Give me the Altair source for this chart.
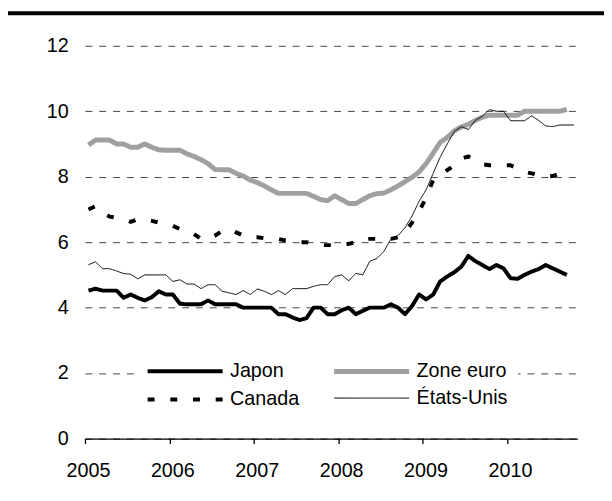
import altair as alt
import pandas as pd

# Monthly unemployment rates (%), Jan 2005 onwards
japon = [4.52, 4.58, 4.52, 4.52, 4.52, 4.30, 4.40, 4.30, 4.22, 4.32, 4.50, 4.40,
         4.40, 4.12, 4.10, 4.10, 4.10, 4.22, 4.10, 4.10, 4.10, 4.10, 4.00, 4.00,
         4.00, 4.00, 4.00, 3.80, 3.80, 3.70, 3.62, 3.68, 4.00, 4.00, 3.80, 3.80,
         3.92, 4.00, 3.80, 3.90, 4.00, 4.00, 4.00, 4.10, 4.00, 3.80, 4.05, 4.40,
         4.25, 4.40, 4.80, 4.95, 5.08, 5.25, 5.58, 5.42, 5.30, 5.18, 5.30, 5.20,
         4.90, 4.88, 5.00, 5.10, 5.18, 5.30, 5.20, 5.10, 5.00]
zone_euro = [8.97, 9.12, 9.12, 9.12, 9.00, 9.00, 8.90, 8.90, 9.00, 8.90, 8.82, 8.81,
             8.81, 8.81, 8.70, 8.62, 8.52, 8.40, 8.22, 8.21, 8.21, 8.10, 8.02, 7.90,
             7.82, 7.72, 7.60, 7.49, 7.49, 7.49, 7.49, 7.49, 7.40, 7.30, 7.27, 7.42,
             7.30, 7.18, 7.18, 7.30, 7.42, 7.48, 7.50, 7.60, 7.72, 7.85, 7.98, 8.15,
             8.40, 8.72, 9.05, 9.20, 9.40, 9.52, 9.60, 9.72, 9.82, 9.88, 9.88, 9.88,
             9.88, 9.88, 10.00, 10.00, 10.00, 10.00, 10.00, 10.00, 10.06]
canada = [7.00, 7.10, 6.90, 6.78, 6.75, 6.70, 6.62, 6.70, 6.70, 6.65, 6.60, 6.55,
          6.50, 6.40, 6.30, 6.25, 6.10, 6.10, 6.20, 6.35, 6.40, 6.30, 6.20, 6.15,
          6.15, 6.12, 6.10, 6.10, 6.05, 6.03, 6.00, 6.00, 5.95, 5.91, 5.91, 5.91,
          5.91, 5.95, 6.00, 6.10, 6.10, 6.10, 6.10, 6.10, 6.15, 6.30, 6.60, 6.95,
          7.35, 7.90, 8.05, 8.20, 8.35, 8.55, 8.62, 8.50, 8.38, 8.35, 8.35, 8.35,
          8.35, 8.25, 8.15, 8.10, 8.05, 8.00, 8.02, 8.10]
etats_unis = [5.31, 5.40, 5.19, 5.19, 5.12, 5.04, 5.02, 4.88, 5.00, 5.00, 5.00, 5.00,
              4.80, 4.85, 4.72, 4.72, 4.58, 4.70, 4.70, 4.50, 4.45, 4.40, 4.52, 4.40,
              4.57, 4.50, 4.40, 4.52, 4.40, 4.58, 4.58, 4.58, 4.65, 4.70, 4.70, 4.95,
              5.00, 4.82, 5.05, 5.00, 5.42, 5.50, 5.72, 6.10, 6.20, 6.44, 6.80, 7.25,
              7.60, 8.10, 8.60, 9.00, 9.38, 9.53, 9.44, 9.72, 9.85, 10.05, 10.00, 10.00,
              9.71, 9.71, 9.71, 9.86, 9.72, 9.55, 9.53, 9.58, 9.58, 9.58]

# draw order (États-Unis on top)
series_names = ["Japon", "Zone euro", "Canada", "États-Unis"]
series_values = [japon, zone_euro, canada, etats_unis]

# legend order (filled column by column: Japon / Canada, then Zone euro / États-Unis)
legend_order = ["Japon", "Canada", "Zone euro", "États-Unis"]
legend_colors = ["#000000", "#000000", "#a0a0a0", "#000000"]
legend_widths = [4, 4, 5, 1]
legend_dashes = [[1, 0], [7, 16], [1, 0], [1, 0]]

year_ticks = [2005, 2006, 2007, 2008, 2009, 2010]
y_ticks = [0, 2, 4, 6, 8, 10, 12]
n_months_axis = 70
start_year = 2005

rows = []
for name, vals in zip(series_names, series_values):
    for i, v in enumerate(vals):
        rows.append({"serie": name, "t": start_year + (i + 0.5) / 12, "v": v})
df = pd.DataFrame(rows)

FONT = "Liberation Sans"
W, H = 499, 398

lines = alt.Chart(df).mark_line(strokeJoin="round").encode(
    x=alt.X("t:Q",
            scale=alt.Scale(domain=[start_year, start_year + n_months_axis / 12], nice=False, zero=False),
            axis=alt.Axis(values=year_ticks, format="d", title=None, grid=False,
                          domainColor="black", domainWidth=1.3, tickColor="black",
                          tickSize=5, tickWidth=1.3, labelPadding=17, labelOffset=3,
                          labelFlush=False,
                          labelFontSize=20, labelFont=FONT, labelColor="black")),
    y=alt.Y("v:Q",
            scale=alt.Scale(domain=[0, 12], nice=False),
            axis=alt.Axis(values=y_ticks, title=None, domain=False, ticks=False, tickSize=0,
                          labelPadding=17, labelFontSize=20, labelFont=FONT, labelColor="black",
                          grid=True, gridColor="#444444", gridDash=[7, 7], gridWidth=1)),
    color=alt.Color("serie:N", scale=alt.Scale(type="ordinal", domain=legend_order, range=legend_colors),
                    legend=alt.Legend(title=None)),
    strokeWidth=alt.StrokeWidth("serie:N",
                                scale=alt.Scale(type="ordinal", domain=legend_order, range=legend_widths),
                                legend=alt.Legend(title=None)),
    strokeDash=alt.StrokeDash("serie:N",
                              scale=alt.Scale(type="ordinal", domain=legend_order, range=legend_dashes),
                              legend=alt.Legend(title=None)),
    detail="serie:N",
)

top_bar = alt.Chart(pd.DataFrame({"a": [0]})).mark_rule(color="black", strokeWidth=4).encode(
    x=alt.value(-78), x2=alt.value(W + 27), y=alt.value(-33)
)

chart = alt.layer(lines, top_bar).properties(
    width=W, height=H,
    autosize=alt.AutoSizeParams(type="none"),
    padding={"left": 78, "top": 35, "right": 27, "bottom": 60},
).configure_view(stroke=None).configure_legend(
    orient="none", legendX=51, legendY=308,
    columns=2, symbolType="M-1,0H7", symbolSize=361,
    labelFont=FONT, labelFontSize=20, labelColor="black", labelOffset=62,
    columnPadding=24, rowPadding=7, padding=10, fillColor="white",
    symbolStrokeColor="black",
)

chart.save("out.html", embed_options={"renderer": "svg", "actions": False})
